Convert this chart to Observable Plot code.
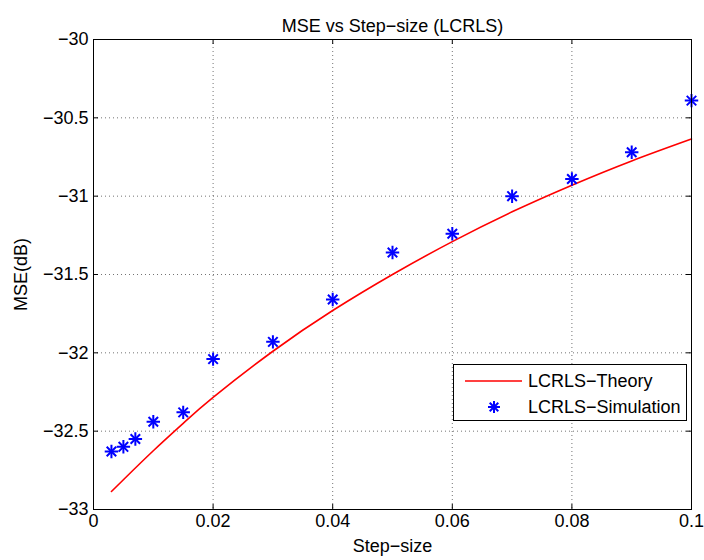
<!DOCTYPE html>
<html>
<head>
<meta charset="utf-8">
<script src="https://cdn.jsdelivr.net/npm/d3@7"></script>
<script src="https://cdn.jsdelivr.net/npm/@observablehq/plot@0.6"></script>
<style>
  body { margin: 0; background: #fff; font-family: "Liberation Sans", Arial, sans-serif; }
  #wrap { position: relative; width: 704px; height: 560px; }
  #legend { position: absolute; left: 453px; top: 364px; width: 232px; height: 55px;
    border: 1px solid #000; background: #fff; font-size: 18px; }
  .row { position: absolute; left: 0; height: 22px; display: flex; align-items: center; }
  .row svg { flex: none; }
  .row span { margin-left: 5px; white-space: nowrap; }
</style>
</head>
<body>
<div id="wrap"></div>
<script>
const titleText = "MSE vs Step−size (LCRLS)";
const xLabel = "Step−size";
const yLabel = "MSE(dB)";
const seriesNames = ["LCRLS−Theory", "LCRLS−Simulation"];

const xTicks = [0, 0.02, 0.04, 0.06, 0.08, 0.1];
const yTicks = [-30, -30.5, -31, -31.5, -32, -32.5, -33];

const theoryStep = [0.003, 0.005, 0.01, 0.015, 0.02, 0.03, 0.04, 0.05, 0.06, 0.07, 0.08, 0.09, 0.1];
const theoryMSE  = [-32.885, -32.81, -32.625, -32.45, -32.285, -31.99, -31.73, -31.50, -31.29, -31.10, -30.93, -30.775, -30.635];

const simStep = [0.003, 0.005, 0.007, 0.01, 0.015, 0.02, 0.03, 0.04, 0.05, 0.06, 0.07, 0.08, 0.09, 0.1];
const simMSE  = [-32.63, -32.60, -32.55, -32.44, -32.38, -32.04, -31.93, -31.66, -31.36, -31.24, -31.00, -30.89, -30.72, -30.39];

const theory = theoryStep.map((x, i) => ({x, y: theoryMSE[i]}));
const sim = simStep.map((x, i) => ({x, y: simMSE[i]}));

const W = 704, H = 560;
const mL = 93, mR = 13, mT = 39, mB = 51;
const innerH = H - mT - mB, innerW = W - mL - mR;
const fmt = d => String(d).replace("-", "−");
const FS = 18;

const chart = Plot.plot({
  width: W, height: H,
  marginLeft: mL, marginRight: mR, marginTop: mT, marginBottom: mB,
  style: {fontFamily: "Liberation Sans, Arial, sans-serif", fontSize: FS + "px", background: "#fff", color: "#000"},
  x: {domain: [0, 0.1]},
  y: {domain: [-33, -30]},
  marks: [
    Plot.gridX(xTicks, {stroke: "#000", strokeOpacity: 0.55, strokeDasharray: "1,3"}),
    Plot.gridY(yTicks, {stroke: "#000", strokeOpacity: 0.55, strokeDasharray: "1,3"}),
    Plot.tickX(xTicks, {x: d => d, insetTop: innerH - 5, stroke: "#000"}),
    Plot.tickX(xTicks, {x: d => d, insetBottom: innerH - 5, stroke: "#000"}),
    Plot.tickY(yTicks, {y: d => d, insetRight: innerW - 5, stroke: "#000"}),
    Plot.tickY(yTicks, {y: d => d, insetLeft: innerW - 5, stroke: "#000"}),
    Plot.axisX(xTicks, {tickSize: 0, tickPadding: 5, tickFormat: fmt, fontSize: FS,
      label: xLabel, labelAnchor: "center", labelArrow: "none", labelOffset: 42}),
    Plot.axisY(yTicks, {tickSize: 0, tickPadding: 5, tickFormat: fmt, fontSize: FS,
      label: yLabel, labelAnchor: "center", labelArrow: "none", labelOffset: 79}),
    Plot.line(theory, {x: "x", y: "y", stroke: "#ff0000", strokeWidth: 1.6, curve: "natural"}),
    Plot.dot(sim, {x: "x", y: "y", symbol: "plus", r: 4.4, stroke: "#0000ff", strokeWidth: 2}),
    Plot.dot(sim, {x: "x", y: "y", symbol: "times", r: 4.4, stroke: "#0000ff", strokeWidth: 2}),
    Plot.frame({stroke: "#000", strokeWidth: 1}),
    Plot.text([titleText], {frameAnchor: "top", dy: -20, fontSize: FS, fill: "#000"})
  ]
});

const wrap = document.getElementById("wrap");
wrap.appendChild(chart);

const legend = document.createElement("div");
legend.id = "legend";
legend.innerHTML = `
  <div class="row" style="top:5px;left:11px">
    <svg width="58" height="10"><line x1="0" y1="5" x2="57" y2="5" stroke="#ff0000" stroke-width="1.6"/></svg>
    <span>${seriesNames[0]}</span>
  </div>
  <div class="row" style="top:31px;left:11px">
    <svg width="58" height="14"><g stroke="#0000ff" stroke-width="2" transform="translate(29,7)">
      <line x1="-6" y1="0" x2="6" y2="0"/><line x1="0" y1="-6" x2="0" y2="6"/>
      <line x1="-4.3" y1="-4.3" x2="4.3" y2="4.3"/><line x1="-4.3" y1="4.3" x2="4.3" y2="-4.3"/></g></svg>
    <span>${seriesNames[1]}</span>
  </div>`;
wrap.appendChild(legend);
</script>
</body>
</html>
